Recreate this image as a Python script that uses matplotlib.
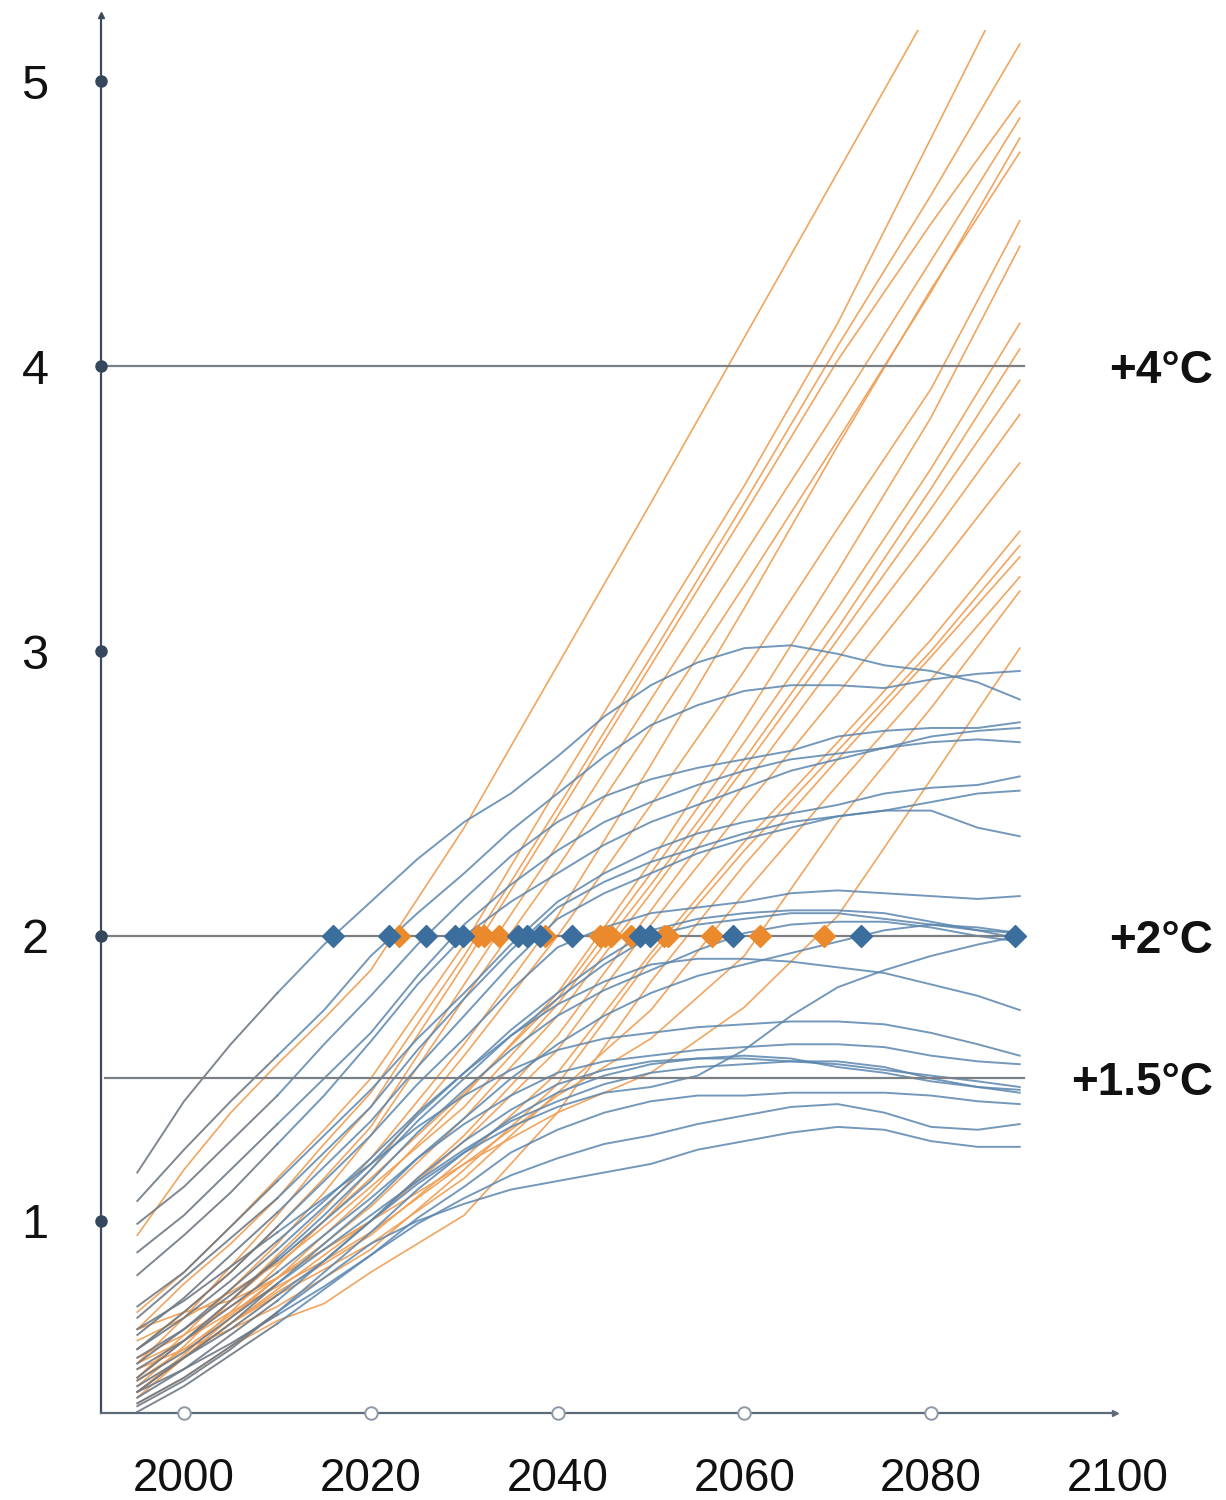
import matplotlib
matplotlib.use("Agg")
import matplotlib.pyplot as plt
import matplotlib.transforms as mtransforms
from matplotlib.patches import Rectangle

plt.rcParams['font.family'] = ['Liberation Sans', 'DejaVu Sans']

# ---------------- data ----------------
orange_years = [1995, 2000, 2005, 2010, 2015, 2020, 2030, 2040, 2050, 2060, 2070, 2080, 2089.5]

orange_runs = [
    [0.95, 1.18, 1.38, 1.55, 1.71, 1.88, 2.38, 2.95, 3.52, 4.10, 4.68, 5.26, 5.80],
    [0.68, 0.82, 0.98, 1.15, 1.32, 1.50, 1.97, 2.52, 3.05, 3.58, 4.15, 4.80, 5.42],
    [0.62, 0.78, 0.92, 1.08, 1.27, 1.45, 1.93, 2.45, 2.98, 3.52, 4.07, 4.60, 5.13],
    [0.50, 0.66, 0.84, 1.02, 1.22, 1.40, 1.90, 2.42, 2.95, 3.48, 4.02, 4.50, 4.93],
    [0.55, 0.68, 0.82, 0.98, 1.15, 1.33, 1.83, 2.32, 2.83, 3.34, 3.85, 4.37, 4.87],
    [0.45, 0.60, 0.76, 0.92, 1.10, 1.30, 1.78, 2.24, 2.73, 3.23, 3.74, 4.26, 4.80],
    [0.42, 0.56, 0.72, 0.88, 1.04, 1.22, 1.62, 2.07, 2.60, 3.15, 3.72, 4.27, 4.75],
    [0.40, 0.53, 0.68, 0.84, 1.00, 1.18, 1.58, 2.00, 2.46, 2.93, 3.43, 3.92, 4.51],
    [0.38, 0.52, 0.66, 0.80, 0.95, 1.10, 1.44, 1.80, 2.26, 2.76, 3.28, 3.82, 4.42],
    [0.45, 0.58, 0.72, 0.86, 1.00, 1.15, 1.45, 1.78, 2.22, 2.68, 3.15, 3.64, 4.15],
    [0.58, 0.66, 0.75, 0.85, 0.98, 1.12, 1.40, 1.76, 2.18, 2.62, 3.08, 3.57, 4.06],
    [0.44, 0.55, 0.67, 0.80, 0.92, 1.05, 1.36, 1.72, 2.15, 2.59, 3.04, 3.50, 3.95],
    [0.40, 0.52, 0.64, 0.76, 0.88, 1.00, 1.30, 1.65, 2.09, 2.53, 2.97, 3.40, 3.83],
    [0.62, 0.68, 0.72, 0.80, 0.90, 1.00, 1.28, 1.60, 2.04, 2.45, 2.85, 3.26, 3.66],
    [0.40, 0.52, 0.64, 0.75, 0.85, 0.95, 1.22, 1.52, 1.94, 2.33, 2.68, 3.04, 3.42],
    [0.48, 0.55, 0.62, 0.70, 0.80, 0.90, 1.18, 1.48, 1.92, 2.30, 2.65, 3.00, 3.37],
    [0.36, 0.45, 0.56, 0.65, 0.71, 0.82, 1.02, 1.38, 1.84, 2.25, 2.62, 2.98, 3.33],
    [0.40, 0.52, 0.64, 0.74, 0.83, 0.92, 1.15, 1.45, 1.74, 2.15, 2.53, 2.90, 3.26],
    [0.50, 0.58, 0.68, 0.77, 0.86, 0.96, 1.20, 1.44, 1.64, 1.93, 2.40, 2.80, 3.21],
    [0.52, 0.60, 0.70, 0.80, 0.90, 1.00, 1.20, 1.38, 1.52, 1.75, 2.07, 2.55, 3.01],
]

blue_years = [1995, 2000, 2005, 2010, 2015, 2020, 2025, 2030, 2035, 2040, 2045,
              2050, 2055, 2060, 2065, 2070, 2075, 2080, 2085, 2089.5]

blue_runs = [
    [1.17, 1.42, 1.62, 1.80, 1.97, 2.12, 2.27, 2.40, 2.50, 2.63, 2.77, 2.88, 2.96, 3.01, 3.02, 2.99, 2.95, 2.93, 2.89, 2.83],
    [1.07, 1.25, 1.42, 1.58, 1.74, 1.93, 2.08, 2.22, 2.37, 2.50, 2.63, 2.74, 2.81, 2.86, 2.88, 2.88, 2.87, 2.90, 2.92, 2.93],
    [0.99, 1.12, 1.28, 1.44, 1.62, 1.79, 1.97, 2.13, 2.28, 2.40, 2.49, 2.55, 2.59, 2.62, 2.65, 2.70, 2.72, 2.73, 2.73, 2.75],
    [0.89, 1.02, 1.18, 1.34, 1.50, 1.66, 1.86, 2.04, 2.18, 2.30, 2.40, 2.47, 2.53, 2.58, 2.62, 2.64, 2.66, 2.70, 2.72, 2.73],
    [0.81, 0.95, 1.10, 1.27, 1.44, 1.63, 1.83, 2.00, 2.12, 2.22, 2.32, 2.40, 2.46, 2.52, 2.58, 2.62, 2.66, 2.68, 2.69, 2.68],
    [0.70, 0.82, 0.98, 1.14, 1.30, 1.46, 1.64, 1.80, 1.97, 2.12, 2.22, 2.30, 2.36, 2.40, 2.43, 2.46, 2.50, 2.52, 2.53, 2.56],
    [0.66, 0.80, 0.94, 1.08, 1.24, 1.40, 1.60, 1.78, 1.95, 2.10, 2.19, 2.26, 2.31, 2.36, 2.40, 2.42, 2.44, 2.47, 2.50, 2.51],
    [0.60, 0.73, 0.88, 1.03, 1.19, 1.35, 1.54, 1.72, 1.90, 2.06, 2.15, 2.22, 2.29, 2.34, 2.38, 2.42, 2.44, 2.44, 2.38, 2.35],
    [0.55, 0.68, 0.82, 0.98, 1.14, 1.30, 1.48, 1.64, 1.81, 1.96, 2.03, 2.08, 2.10, 2.12, 2.15, 2.16, 2.15, 2.14, 2.13, 2.14],
    [0.50, 0.62, 0.76, 0.90, 1.05, 1.20, 1.37, 1.52, 1.67, 1.80, 1.92, 2.02, 2.06, 2.08, 2.09, 2.09, 2.08, 2.05, 2.02, 2.01],
    [0.45, 0.58, 0.72, 0.87, 1.02, 1.18, 1.35, 1.50, 1.65, 1.78, 1.90, 2.00, 2.04, 2.06, 2.08, 2.08, 2.06, 2.04, 2.02, 1.99],
    [0.52, 0.62, 0.74, 0.86, 1.00, 1.14, 1.31, 1.46, 1.60, 1.72, 1.81, 1.88, 1.95, 2.01, 2.04, 2.05, 2.05, 2.03, 2.00, 1.98],
    [0.40, 0.52, 0.64, 0.78, 0.92, 1.06, 1.22, 1.36, 1.50, 1.62, 1.72, 1.80, 1.86, 1.90, 1.94, 1.98, 2.02, 2.04, 2.03, 2.01],
    [0.42, 0.52, 0.62, 0.74, 0.86, 1.00, 1.13, 1.24, 1.33, 1.40, 1.45, 1.47, 1.51, 1.60, 1.72, 1.82, 1.88, 1.93, 1.97, 2.00],
    [0.55, 0.66, 0.79, 0.93, 1.07, 1.22, 1.38, 1.52, 1.65, 1.76, 1.84, 1.90, 1.92, 1.92, 1.91, 1.89, 1.87, 1.83, 1.79, 1.74],
    [0.62, 0.72, 0.84, 0.96, 1.08, 1.20, 1.33, 1.44, 1.53, 1.60, 1.64, 1.66, 1.68, 1.69, 1.70, 1.70, 1.69, 1.66, 1.62, 1.58],
    [0.48, 0.58, 0.70, 0.82, 0.95, 1.08, 1.22, 1.34, 1.44, 1.52, 1.56, 1.58, 1.60, 1.61, 1.62, 1.62, 1.61, 1.58, 1.56, 1.55],
    [0.38, 0.48, 0.60, 0.72, 0.86, 1.00, 1.15, 1.28, 1.39, 1.48, 1.53, 1.56, 1.57, 1.57, 1.56, 1.55, 1.53, 1.51, 1.49, 1.47],
    [0.35, 0.44, 0.55, 0.68, 0.82, 0.96, 1.11, 1.24, 1.36, 1.45, 1.51, 1.55, 1.57, 1.58, 1.57, 1.54, 1.52, 1.49, 1.47, 1.46],
    [0.44, 0.54, 0.66, 0.78, 0.90, 1.02, 1.14, 1.25, 1.35, 1.42, 1.48, 1.52, 1.54, 1.55, 1.56, 1.56, 1.54, 1.50, 1.47, 1.45],
    [0.33, 0.42, 0.53, 0.64, 0.76, 0.88, 1.01, 1.12, 1.24, 1.32, 1.38, 1.42, 1.44, 1.44, 1.45, 1.45, 1.45, 1.44, 1.42, 1.41],
    [0.40, 0.48, 0.57, 0.67, 0.77, 0.88, 0.99, 1.08, 1.16, 1.22, 1.27, 1.30, 1.34, 1.37, 1.40, 1.41, 1.38, 1.33, 1.32, 1.34],
    [0.36, 0.45, 0.56, 0.68, 0.80, 0.92, 1.00, 1.06, 1.11, 1.14, 1.17, 1.20, 1.25, 1.28, 1.31, 1.33, 1.32, 1.28, 1.26, 1.26],
]

blue_cross = [2016.0, 2021.9, 2025.9, 2029.0, 2029.9, 2035.8, 2036.7, 2038.1,
              2041.6, 2048.8, 2049.9, 2058.8, 2072.5, 2089.0]
orange_cross = [2023.0, 2031.5, 2032.1, 2033.7, 2038.7, 2044.5, 2045.1, 2045.7,
                2047.9, 2051.4, 2051.8, 2056.5, 2061.7, 2068.5]

levels = [4, 2, 1.5]
level_labels = ['+4°C', '+2°C', '+1.5°C']
y_ticks = [1, 2, 3, 4, 5]
y_labels = ['1', '2', '3', '4', '5']
x_ticks = [2000, 2020, 2040, 2060, 2080]
x_label_pos = [2000, 2020, 2040, 2060, 2080, 2100]
x_labels = ['2000', '2020', '2040', '2060', '2080', '2100']

# ---------------- styling ----------------
ORANGE = '#f0a057'
BLUE = '#5b86ae'
GRAY = '#6f7985'
DIAM_BLUE = '#3b6e9c'
DIAM_ORANGE = '#ea8a2c'
AXIS = '#3d4c5d'
REF = '#7c8085'

fig = plt.figure(figsize=(12.26, 15), dpi=100)
ax = fig.add_axes([101 / 1226, 87 / 1500, (1115 - 101) / 1226, (1413 - 15) / 1500])
x0, x1 = 1991.11, 2099.7
y0, y1 = 0.326, 5.232
ax.set_xlim(x0, x1)
ax.set_ylim(y0, y1)
ax.set_xticks([])
ax.set_yticks([])
for s in ['top', 'right']:
    ax.spines[s].set_visible(False)
ax.spines['left'].set_color(AXIS)
ax.spines['left'].set_linewidth(1.6)
ax.spines['bottom'].set_color('#5d6b79')
ax.spines['bottom'].set_linewidth(1.6)

clip = Rectangle((x0, y0), x1 - x0, 5.18 - y0, transform=ax.transData)

# orange runs
for run in orange_runs:
    ln, = ax.plot(orange_years, run, color=ORANGE, lw=1.2, alpha=0.95, zorder=2)
    ln.set_clip_path(clip)

# blue runs: grey early part, blue later
for run in blue_runs:
    ax.plot(blue_years[:4], run[:4], color=GRAY, lw=1.4, alpha=0.9, zorder=2.1)
    ax.plot(blue_years[3:], run[3:], color=BLUE, lw=1.4, alpha=0.85, zorder=2.1)

# reference levels
ax.plot([x0, 2090.0], [4, 4], color=REF, lw=1.6, zorder=3)
ax.plot([x0, 2090.0], [2, 2], color=REF, lw=1.6, zorder=3)
ax.plot([1991.5, 2090.0], [1.5, 1.5], color=REF, lw=1.6, zorder=3)

# crossing markers
ax.plot(orange_cross, [2] * len(orange_cross), linestyle='none', marker='D',
        ms=11, color=DIAM_ORANGE, zorder=4)
ax.plot(blue_cross, [2] * len(blue_cross), linestyle='none', marker='D',
        ms=11, color=DIAM_BLUE, zorder=4.5)

# axis tick dots
ax.plot([x0] * len(y_ticks), y_ticks, linestyle='none', marker='o', ms=8,
        color='#34475c', clip_on=False, zorder=6)
ax.plot(x_ticks, [y0] * len(x_ticks), linestyle='none', marker='o', ms=9,
        mfc='white', mec='#8d99a6', mew=1.4, clip_on=False, zorder=6)
# arrow tips
ax.plot([x0], [y1], marker='^', ms=5, color=AXIS, clip_on=False, zorder=6)
ax.plot([x1], [y0], marker='>', ms=5, color='#5d6b79', clip_on=False, zorder=6)

# y labels
ytr = mtransforms.blended_transform_factory(fig.transFigure, ax.transData)
for v, lab in zip(y_ticks, y_labels):
    ax.text(35 / 1226, v, lab, transform=ytr, ha='center', va='center_baseline',
            fontsize=35, color='#111111')

# x labels
xtr = mtransforms.blended_transform_factory(ax.transData, fig.transFigure)
for v, lab in zip(x_label_pos, x_labels):
    ax.text(v, (1500 - 1474) / 1500, lab, transform=xtr, ha='center',
            va='center_baseline', fontsize=33, color='#111111', clip_on=False)

# level labels
for v, lab in zip(levels, level_labels):
    ax.text(1213 / 1226, v, lab, transform=ytr, ha='right', va='center_baseline',
            fontsize=33, fontweight='bold', color='#111111')

fig.savefig('out.png', dpi=100)
